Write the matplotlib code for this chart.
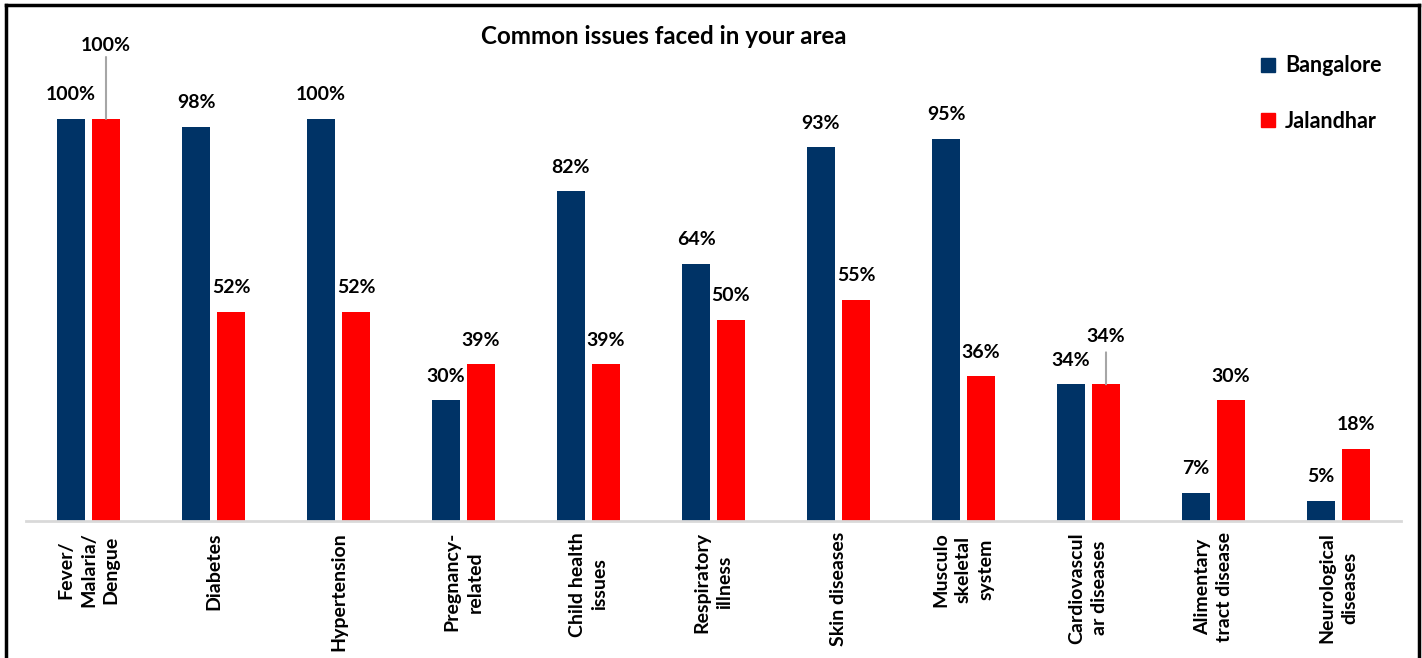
import numpy as np
import matplotlib.pyplot as plt
from matplotlib.lines import Line2D

categories = ["Fever/\nMalaria/\nDengue", "Diabetes", "Hypertension", "Pregnancy-\nrelated",
              "Child health\nissues", "Respiratory\nillness", "Skin diseases", "Musculo\nskeletal\nsystem",
              "Cardiovascul\nar diseases", "Alimentary\ntract disease", "Neurological\ndiseases"]
bangalore = [100, 98, 100, 30, 82, 64, 93, 95, 34, 7, 5]
jalandhar = [100, 52, 52, 39, 39, 50, 55, 36, 34, 30, 18]
series_names = ["Bangalore", "Jalandhar"]
colors = ["#003366", "#ff0000"]

plt.rcParams['font.family'] = ['Lato', 'DejaVu Sans']

fig = plt.figure(figsize=(14.22, 6.58), dpi=100)
ax = fig.add_axes([26 / 1422, 137 / 658, 1375 / 1422, 501 / 658])

x = np.arange(len(categories))
w = 0.224
off = 0.14
b1 = ax.bar(x - off, bangalore, w, color=colors[0])
b2 = ax.bar(x + off, jalandhar, w, color=colors[1])

ax.set_xlim(-0.5, len(categories) - 0.5)
ax.set_ylim(0, 124.6)

# value labels; some Jalandhar labels are pulled up with a leader line
lift = {0: (35.5, 44.6), 8: (17, 23)}
for i in range(len(categories)):
    ax.annotate(f"{bangalore[i]}%", (x[i] - off, bangalore[i]), xytext=(0, 17.3),
                textcoords='offset points', ha='center', va='center',
                fontsize=14, fontweight='bold')
    extra, line_top = lift.get(i, (0, 0))
    ax.annotate(f"{jalandhar[i]}%", (x[i] + off, jalandhar[i]), xytext=(0, 17.3 + extra),
                textcoords='offset points', ha='center', va='center',
                fontsize=14, fontweight='bold')
    if extra:
        ax.annotate("", (x[i] + off, jalandhar[i]), xytext=(0, line_top),
                    textcoords='offset points',
                    arrowprops=dict(arrowstyle='-', color='#a6a6a6', lw=1.5,
                                    shrinkA=0, shrinkB=0))

ax.set_xticks(x)
ax.set_xticklabels(categories, rotation=90, va='top', ha='center',
                   multialignment='center', fontsize=14, fontweight='bold')
for lbl in ax.get_xticklabels():
    lbl.set_linespacing(1.4)
ax.tick_params(axis='x', length=0, pad=8)
ax.set_yticks([])
for s in ['left', 'right', 'top']:
    ax.spines[s].set_visible(False)
ax.spines['bottom'].set_color('#d9d9d9')
ax.spines['bottom'].set_linewidth(2)

fig.text(664 / 1422, 1 - 37 / 658, "Common issues faced in your area", ha='center', va='center',
         fontsize=17.4, fontweight='bold')

handles = [plt.Rectangle((0, 0), 1, 1, color=c) for c in colors]
fig.legend(handles, series_names, loc='upper left', bbox_to_anchor=(1242 / 1422, 1 - 36 / 658),
           frameon=False, prop={'size': 15.5, 'weight': 'bold'}, handlelength=0.65, handleheight=0.65,
           handletextpad=0.45, labelspacing=1.6)

# frame around the figure
for xs, ys in [([6, 6], [658, 5]), ([6, 1419], [5, 5]), ([1419, 1419], [5, 658])]:
    fig.add_artist(Line2D([v / 1422 for v in xs], [1 - v / 658 for v in ys], color='black', lw=2.5))

fig.savefig("out.png", dpi=100)
